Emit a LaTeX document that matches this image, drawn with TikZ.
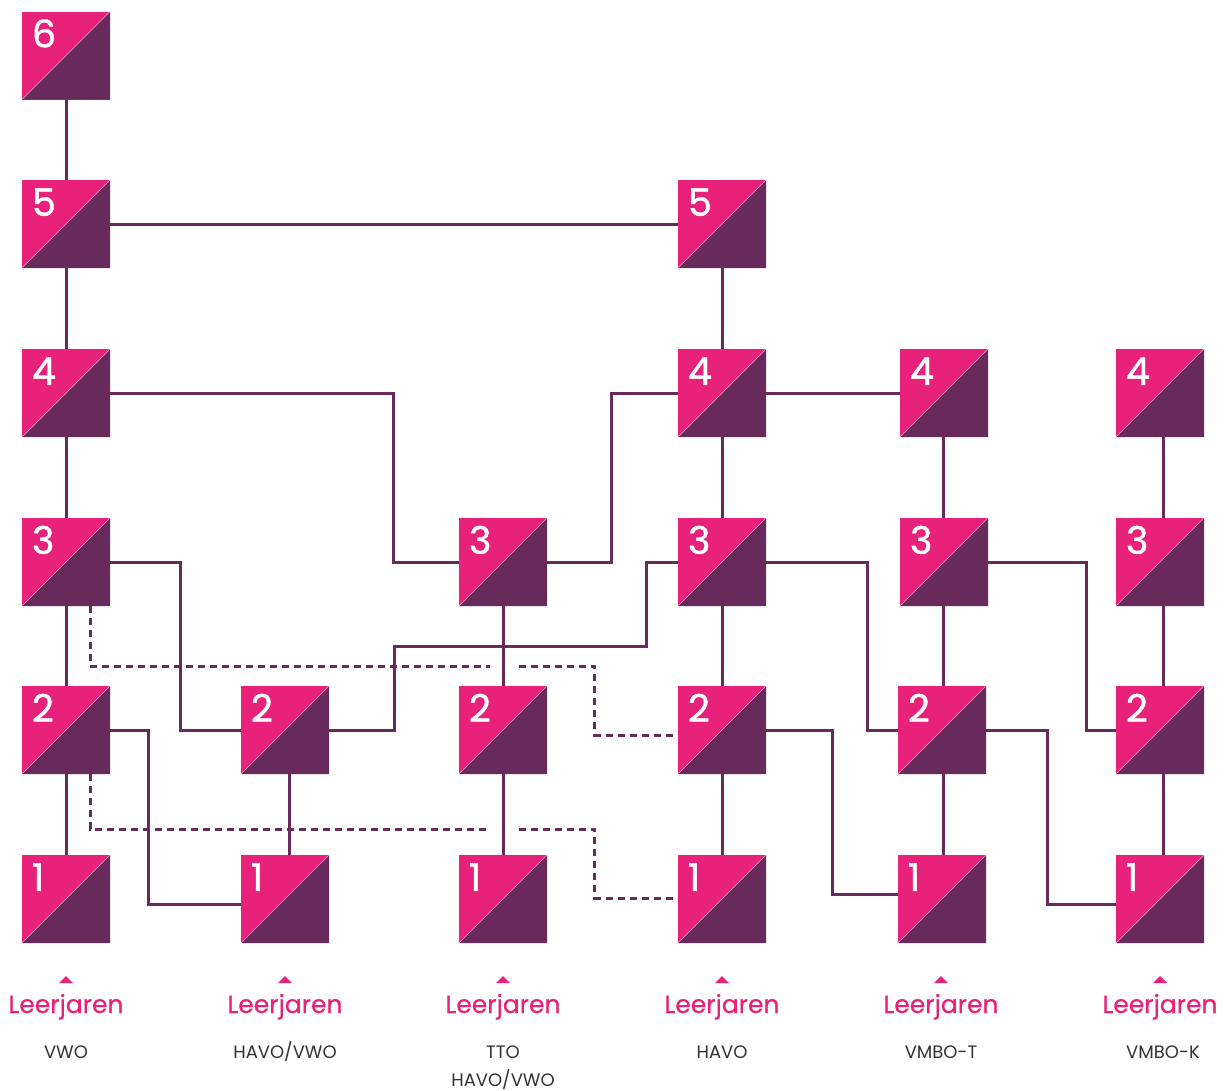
\documentclass[tikz,border=0pt]{standalone}
\usepackage{fontspec}
\setmainfont{Poppins}
\newfontfamily\digfont[FakeBold=1.2]{Poppins}
\newfontfamily\ljfont[FakeBold=0.6]{Poppins}
\usetikzlibrary{calc}
\definecolor{pk}{HTML}{E8217A}
\definecolor{pu}{HTML}{682A5A}
\definecolor{capc}{HTML}{333333}
\tikzset{
 yr/.style={draw=none, minimum size=88pt, inner sep=0pt, fill=pk,
   path picture={\fill[pu] (path picture bounding box.north east) -- (path picture bounding box.south east) -- (path picture bounding box.south west) -- cycle;
   \draw[white!60!pk, line width=0.6pt] (path picture bounding box.north east) -- (path picture bounding box.south west);}},
 dig/.style={anchor=base west, text=white, font=\digfont\fontsize{38}{38}\selectfont, inner sep=0pt},
 conn/.style={draw=pu, line width=3pt},
 dots/.style={draw=pu, line width=3pt, dash pattern=on 7pt off 5pt},
 lj/.style={text=pk, font=\ljfont\fontsize{25}{25}\selectfont, anchor=base, inner sep=0pt},
 cp/.style={text=capc, font=\fontsize{18}{18}\selectfont, anchor=base, inner sep=0pt},
}
\newcommand\yrbox[4]{\node[yr] (#1) at (#2,#3) {}; \node[dig] (#1d) at ($(#1.north west)+(10,36)$) {#4};}
\newcommand\colfoot[2]{\fill[pk] (#2-7,983) -- (#2+7,983) -- (#2,976) -- cycle;
  \node[lj] (#1L) at (#2,1013) {Leerjaren};}
\begin{document}
\begin{tikzpicture}[x=1pt,y=-1pt]
\useasboundingbox[fill=white] (0,0) rectangle (1228,1090);
% column A (VWO)
\yrbox{A6}{66}{55.5}{6}
\yrbox{A5}{66}{224}{5}
\yrbox{A4}{66}{393}{4}
\yrbox{A3}{66}{562}{3}
\yrbox{A2}{66}{730}{2}
\yrbox{A1}{66}{899}{1}
% column B (HAVO/VWO)
\yrbox{B2}{285}{730}{2}
\yrbox{B1}{285}{899}{1}
% column C (TTO)
\yrbox{C3}{503}{562}{3}
\yrbox{C2}{503}{730}{2}
\yrbox{C1}{503}{899}{1}
% column D (HAVO)
\yrbox{D5}{722}{224}{5}
\yrbox{D4}{722}{393}{4}
\yrbox{D3}{722}{562}{3}
\yrbox{D2}{722}{730}{2}
\yrbox{D1}{722}{899}{1}
% column E (VMBO-T)
\yrbox{E4}{944}{393}{4}
\yrbox{E3}{944}{562}{3}
\yrbox{E2}{942}{730}{2}
\yrbox{E1}{942}{899}{1}
% column F (VMBO-K)
\yrbox{F4}{1160}{393}{4}
\yrbox{F3}{1160}{562}{3}
\yrbox{F2}{1160}{730}{2}
\yrbox{F1}{1160}{899}{1}
% vertical connectors
\draw[conn] (A6.south) -- (A5.north);
\draw[conn] (A5.south) -- (A4.north);
\draw[conn] (A4.south) -- (A3.north);
\draw[conn] (A3.south) -- (A2.north);
\draw[conn] (A2.south) -- (A1.north);
\draw[conn] ([xshift=4pt]B2.south) -- ([xshift=4pt]B1.north);
\draw[conn] (C3.south) -- (C2.north);
\draw[conn] (C2.south) -- (C1.north);
\draw[conn] (D5.south) -- (D4.north);
\draw[conn] (D4.south) -- (D3.north);
\draw[conn] (D3.south) -- (D2.north);
\draw[conn] (D2.south) -- (D1.north);
\draw[conn] ([xshift=-1pt]E4.south) -- ([xshift=-1pt]E3.north);
\draw[conn] ([xshift=-1pt]E3.south) -- ([xshift=1pt]E2.north);
\draw[conn] ([xshift=1pt]E2.south) -- ([xshift=1pt]E1.north);
\draw[conn] ([xshift=3pt]F4.south) -- ([xshift=3pt]F3.north);
\draw[conn] ([xshift=3pt]F3.south) -- ([xshift=3pt]F2.north);
\draw[conn] ([xshift=3pt]F2.south) -- ([xshift=3pt]F1.north);
% horizontal / routed connectors
\draw[conn] (A5.east) -- (D5.west);
\draw[conn] (D4.east) -- (E4.west);
\draw[conn] (A4.east) -| ($(C3.west)+(-65,0)$) -- (C3.west);
\draw[conn] (C3.east) -| ($(D4.west)+(-66,0)$) -- (D4.west);
\draw[conn] (A3.east) -| ($(B2.west)+(-60,0)$) -- (B2.west);
\draw[conn] (B2.east) -- ++(65,0) |- ($(D3.west)+(-31,84)$) |- (D3.west);
\draw[conn] (A2.east) -| ($(B1.west)+(-92,5)$) -- ([yshift=-5pt]B1.west);
\draw[conn] (D3.east) -| ($(E2.west)+(-30,0)$) -- (E2.west);
\draw[conn] (D2.east) -| ($(E1.west)+(-65,-5)$) -- ([yshift=5pt]E1.west);
\draw[conn] (E3.east) -| ($(F2.west)+(-29,0)$) -- (F2.west);
\draw[conn] (E2.east) -| ($(F1.west)+(-68,5)$) -- ([yshift=-5pt]F1.west);
% dotted connectors
\coordinate (g1a) at (490,666);
\coordinate (g1b) at (519,666);
\coordinate (g2a) at (490,829);
\coordinate (g2b) at (519,829);
\draw[dots] ([xshift=24pt]A3.south) |- (g1a);
\draw[dots] (g1b) -| ($(D2.west)+(-83,5)$) -- ([yshift=-5pt]D2.west);
\draw[dots] ([xshift=24pt]A2.south) |- (g2a);
\draw[dots] (g2b) -| ($(D1.west)+(-83,-1)$) -- ([yshift=1pt]D1.west);
% footers
\colfoot{A}{66}
\colfoot{B}{285}
\colfoot{C}{503}
\colfoot{D}{722}
\colfoot{E}{941}
\colfoot{F}{1160}
\node[cp] (Acap) at (66,1058) {VWO};
\node[cp] (Bcap) at (285,1058) {HAVO/VWO};
\node[cp] (Ccap) at (503,1058) {TTO};
\node[cp] (Ccap2) at (503,1086) {HAVO/VWO};
\node[cp] (Dcap) at (722,1058) {HAVO};
\node[cp] (Ecap) at (941,1058) {VMBO-T};
\node[cp] (Fcap) at (1163,1058) {VMBO-K};
\end{tikzpicture}
\end{document}
